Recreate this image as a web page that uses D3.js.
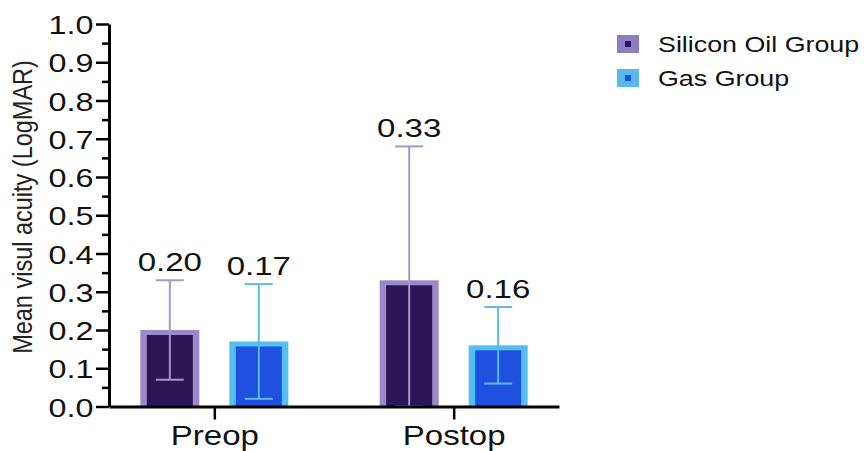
<!DOCTYPE html>
<html>
<head>
<meta charset="utf-8">
<script src="https://cdn.jsdelivr.net/npm/d3@7"></script>
<style>
  html, body { margin: 0; padding: 0; background: #fff; }
  svg { display: block; font-family: "Liberation Sans", Arial, Helvetica, sans-serif; }
</style>
</head>
<body>
<svg id="chart" width="866" height="451"></svg>
<script>
// ---- data ----
const categories = ["Preop", "Postop"];
const seriesNames = ["Silicon Oil Group", "Gas Group"];
const siliconMeans = [0.20, 0.33];
const gasMeans = [0.17, 0.16];
const siliconSD = [0.13, 0.35];
const gasSD = [0.15, 0.10];
const yMajorTicks = [0, 0.1, 0.2, 0.3, 0.4, 0.5, 0.6, 0.7, 0.8, 0.9, 1.0];
const yMinorTicks = [0.05, 0.15, 0.25, 0.35, 0.45, 0.55, 0.65, 0.75, 0.85, 0.95];
const yTitle = "Mean visul acuity (LogMAR)";

// ---- styles ----
const styles = {
  "Silicon Oil Group": { outer: "#9c89c8", inner: "#2b1757", err: "#a596cc", legOuter: "#8f7dc2", legInner: "#2a1860" },
  "Gas Group": { outer: "#55c0f0", inner: "#1f50e0", err: "#5cb9e8", legOuter: "#5ab9ec", legInner: "#1f4fe0" }
};
const SX = 1.22; // horizontal stretch of the original picture

const rows = categories.map((c, i) => ({
  cat: c,
  vals: [
    { s: seriesNames[0], m: siliconMeans[i], sd: siliconSD[i] },
    { s: seriesNames[1], m: gasMeans[i], sd: gasSD[i] }
  ]
}));

const svg = d3.select("#chart");
const y = d3.scaleLinear().domain([0, 1]).range([406.5, 24]);
const x = d3.scalePoint().domain(categories).range([109, 559]).padding(0.44);
const x1 = d3.scaleBand().domain(seriesNames).range([-74, 74]).paddingInner(0.337).paddingOuter(0);

// ---- bars ----
const groups = svg.append("g").selectAll("g").data(rows).join("g")
  .attr("transform", d => `translate(${x(d.cat)},0)`);

const inset = 6.5, insetTop = 5;
groups.selectAll("rect.outer").data(d => d.vals).join("rect")
  .attr("class", "outer")
  .attr("x", d => x1(d.s))
  .attr("width", x1.bandwidth())
  .attr("y", d => y(d.m))
  .attr("height", d => y(0) - y(d.m))
  .attr("fill", d => styles[d.s].outer);

groups.selectAll("rect.inner").data(d => d.vals).join("rect")
  .attr("class", "inner")
  .attr("x", d => x1(d.s) + inset)
  .attr("width", x1.bandwidth() - 2 * inset)
  .attr("y", d => y(d.m) + insetTop)
  .attr("height", d => y(0) - y(d.m) - insetTop)
  .attr("fill", d => styles[d.s].inner);

// ---- error bars ----
const capW = 28;
const eb = groups.selectAll("g.eb").data(d => d.vals).join("g").attr("class", "eb")
  .attr("stroke", d => styles[d.s].err).attr("stroke-width", 2).attr("fill", "none");
eb.append("line")
  .attr("x1", d => x1(d.s) + x1.bandwidth() / 2).attr("x2", d => x1(d.s) + x1.bandwidth() / 2)
  .attr("y1", d => y(Math.max(0, d.m - d.sd))).attr("y2", d => y(d.m + d.sd));
eb.append("line")
  .attr("x1", d => x1(d.s) + x1.bandwidth() / 2 - capW / 2).attr("x2", d => x1(d.s) + x1.bandwidth() / 2 + capW / 2)
  .attr("y1", d => y(d.m + d.sd)).attr("y2", d => y(d.m + d.sd));
eb.append("line")
  .attr("x1", d => x1(d.s) + x1.bandwidth() / 2 - capW / 2).attr("x2", d => x1(d.s) + x1.bandwidth() / 2 + capW / 2)
  .attr("y1", d => y(Math.max(0, d.m - d.sd))).attr("y2", d => y(Math.max(0, d.m - d.sd)));

// ---- value labels ----
groups.selectAll("text.val").data(d => d.vals).join("text")
  .attr("class", "val")
  .attr("transform", d => `translate(${x1(d.s) + x1.bandwidth() / 2},${y(d.m + d.sd) - 9}) scale(1.27,1)`)
  .attr("text-anchor", "middle")
  .attr("font-size", 26)
  .attr("fill", "#111")
  .text(d => d.m.toFixed(2));

// ---- y axis ----
const yMinor = svg.append("g").attr("transform", "translate(109,0)")
  .call(d3.axisLeft(y).tickValues(yMinorTicks).tickSize(7).tickFormat(""));
yMinor.select(".domain").remove();
yMinor.selectAll("line").attr("stroke", "#000").attr("stroke-width", 2.5);

const yAx = svg.append("g").attr("transform", "translate(109,0)")
  .call(d3.axisLeft(y).tickValues(yMajorTicks).tickSize(13).tickSizeOuter(0).tickFormat(d3.format(".1f")));
yAx.select(".domain").attr("stroke", "#000").attr("stroke-width", 3);
yAx.selectAll(".tick line").attr("stroke", "#000").attr("stroke-width", 2.5);
yAx.selectAll(".tick text")
  .attr("x", 0).attr("dy", "0.36em")
  .attr("transform", `translate(-15.5,0) scale(${SX},1)`)
  .attr("font-size", 26.5)
  .attr("font-family", "Liberation Sans, Arial, sans-serif")
  .attr("fill", "#111");

// ---- x axis ----
const xAx = svg.append("g").attr("transform", `translate(0,${y(0)})`)
  .call(d3.axisBottom(x).tickSize(13).tickSizeOuter(0));
xAx.select(".domain").attr("stroke", "#000").attr("stroke-width", 3);
xAx.selectAll(".tick line").attr("stroke", "#000").attr("stroke-width", 2.5);
xAx.selectAll(".tick text")
  .attr("y", 0).attr("dy", 0)
  .attr("transform", `translate(0,38.5) scale(1.2,1)`)
  .attr("font-size", 27.5)
  .attr("font-family", "Liberation Sans, Arial, sans-serif")
  .attr("fill", "#111");

// ---- y title ----
svg.append("text")
  .attr("transform", `translate(32,207) rotate(-90) scale(1,1.18)`)
  .attr("text-anchor", "middle")
  .attr("font-size", 23.5)
  .attr("fill", "#222")
  .text(yTitle);

// ---- legend ----
const leg = svg.append("g").selectAll("g").data(seriesNames).join("g")
  .attr("transform", (d, i) => `translate(617,${35 + i * 34})`);
leg.append("rect").attr("width", 22).attr("height", 18).attr("fill", d => styles[d].legOuter);
leg.append("rect").attr("x", 8).attr("y", 6).attr("width", 6).attr("height", 6).attr("fill", d => styles[d].legInner);
leg.append("text")
  .attr("transform", `translate(41,17) scale(${SX},1)`)
  .attr("font-size", 22)
  .attr("fill", "#111")
  .text(d => d);
</script>
</body>
</html>
